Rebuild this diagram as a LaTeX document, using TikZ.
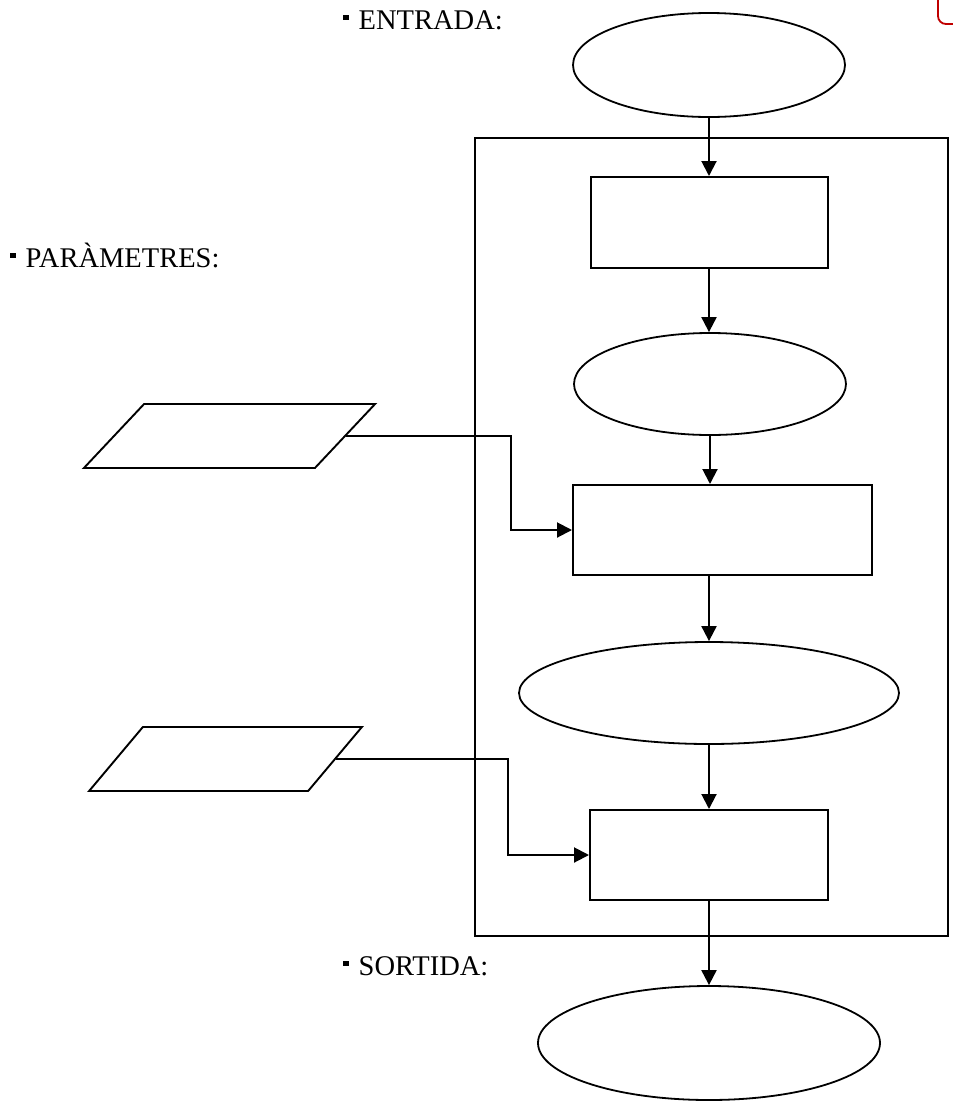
\documentclass[tikz,border=0pt]{standalone}
\usepackage{fontspec}
\setmainfont{Liberation Serif}
\usetikzlibrary{arrows.meta,positioning,shapes.geometric}
\definecolor{ink}{HTML}{000000}
\definecolor{markred}{HTML}{C00000}
\newcommand{\bul}{\rule[9pt]{5.5pt}{5.5pt}\hspace{10pt}}
\tikzset{term/.style={ellipse,draw=ink,line width=1.8pt,inner sep=0pt}, proc/.style={rectangle,draw=ink,line width=2pt,inner sep=0pt}, data/.style={rectangle,draw=ink,line width=1.9pt,inner sep=0pt,minimum height=64pt}, flow/.style={-{Triangle[length=15pt,width=15pt]},line width=2pt,draw=ink}, lbl/.style={anchor=base west,inner sep=0pt,font=\fontsize{28.5}{34}\selectfont}}

\begin{document}
\begin{tikzpicture}[x=1pt,y=-1pt]
\useasboundingbox (0,0) rectangle (953,1101);
% frame round the process
\node[proc,minimum width=473pt,minimum height=798pt] (frame) at (711.5,537) {};
% main column
\node[term,minimum width=272pt,minimum height=104pt] (e1) at (709,65) {};
\node[proc,minimum width=237pt,minimum height=91pt] (p1) at (709,222.5) {};
\node[term,minimum width=272pt,minimum height=102pt] (e2) at (710,384) {};
\node[proc,minimum width=299pt,minimum height=90pt] (p2) at (722.5,530) {};
\node[term,minimum width=380pt,minimum height=102pt] (e3) at (709,693) {};
\node[proc,minimum width=238pt,minimum height=90pt] (p3) at (709,855) {};
\node[term,minimum width=342pt,minimum height=114pt] (e4) at (709,1043) {};
% parameters
\node[data,xslant=0.94,minimum width=231pt] (d1) at (229.5,436) {};
\node[data,xslant=0.84,minimum width=219pt] (d2) at (225.5,759) {};
% labels
\node[lbl] (lin) at (343,29) {\bul ENTRADA:};
\node[lbl] (lpar) at (10,267) {\bul PARÀMETRES:};
\node[lbl] (lout) at (343,975) {\bul SORTIDA:};
% connectors
\draw[flow] (e1.south) -- (e1.south |- p1.north);
\draw[flow] (p1.south) -- (p1.south |- e2.north);
\draw[flow] (e2.south) -- (e2.south |- p2.north);
\draw[flow] (e3.north |- p2.south) -- (e3.north);
\draw[flow] (e3.south) -- (e3.south |- p3.north);
\draw[flow] (p3.south) -- (e4.north);
\draw[flow] (d1.east) -- ++(165,0) |- (p2.west);
\draw[flow] (d2.east) -- ++(172,0) |- (p3.west);
% corner mark
\draw[markred,line width=1.8pt,rounded corners=8pt] (938,-3) -- (938,24) -- (956,24);
\end{tikzpicture}
\end{document}
